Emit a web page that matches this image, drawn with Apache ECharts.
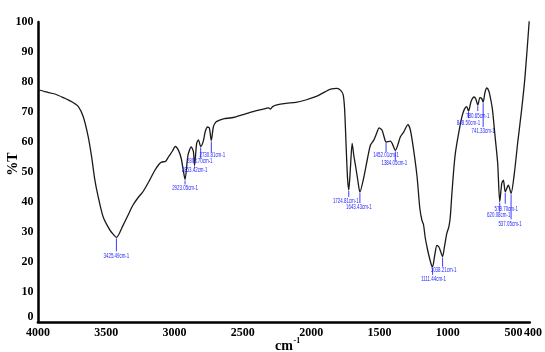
<!DOCTYPE html>
<html>
<head>
<meta charset="utf-8">
<script src="https://cdn.jsdelivr.net/npm/echarts@6/dist/echarts.min.js"></script>
<style>
  html, body { margin: 0; padding: 0; background: #fff; }
  #chart { width: 545px; height: 352px; }
</style>
</head>
<body>
<div id="chart"></div>
<script>
// FTIR spectrum: wavenumber (cm-1) vs transmittance (%T)
const wavenumber = [
  4000, 3950, 3875, 3814, 3752, 3704, 3668, 3632, 3607, 3583, 3559, 3523, 3474, 3448, 3425.49,
  3376, 3336, 3304, 3266, 3230, 3182, 3145, 3115, 3095, 3065, 3045, 3015, 2995, 2972, 2951,
  2936, 2923.05, 2902, 2878, 2862, 2853.42, 2838, 2825, 2808.70, 2790, 2775, 2758, 2745,
  2730.81, 2716, 2698, 2675, 2636, 2595, 2550, 2492, 2452, 2385, 2330, 2312, 2298, 2282,
  2258, 2185, 2112, 2040, 1967, 1919, 1858, 1810, 1786, 1766, 1755, 1744, 1734, 1724.81,
  1712, 1700, 1688, 1675, 1658, 1643.43, 1614, 1590, 1566, 1541, 1517, 1503, 1482, 1465,
  1452.01, 1420, 1405, 1384.05, 1346, 1322, 1292, 1274, 1250, 1225, 1205, 1190, 1178, 1165,
  1150, 1135, 1120, 1111.44, 1095, 1080, 1065, 1055, 1038.21, 1025, 1007, 992, 982, 970,
  958, 945, 921, 897, 880, 862, 848.50, 830, 808, 795, 780.65, 765, 752, 741.33, 728, 715,
  700, 685, 673, 654, 635, 620.08, 605, 593, 579.70, 557, 537.05, 513, 489, 460, 435, 404
];
const transmittance = [
  77.5, 76.8, 76.0, 74.8, 73.4, 71.8, 68.4, 61.8, 55.1, 47.3, 41.8, 35.1, 30.7, 29.2, 28.2,
  32.3, 36.0, 39.0, 41.5, 43.5, 47.3, 50.5, 52.5, 53.3, 53.6, 55.0, 57.0, 58.5, 57.3, 54.5,
  50.5, 47.5, 55.5, 58.4, 56.8, 52.2, 59.6, 60.7, 58.5, 60.2, 63.5, 65.0, 64.6,
  60.5, 65.0, 66.6, 67.2, 67.8, 68.0, 68.4, 69.2, 69.8, 70.6, 71.2, 71.4, 71.0, 71.8,
  72.3, 72.9, 73.2, 74.0, 75.1, 76.2, 77.6, 77.9, 77.3, 75.8, 70.7, 58.4, 48.0, 44.0,
  52.0, 59.5, 55.5, 52.0, 47.0, 43.3, 48.4, 54.0, 59.0, 60.7, 63.4, 64.7, 64.0, 61.5,
  60.0, 60.3, 59.3, 57.2, 61.8, 63.4, 65.8, 64.0, 57.3, 48.4, 38.0, 34.0, 32.5, 28.0,
  24.5, 21.5, 19.0, 18.4, 22.5, 25.5, 25.0, 23.8, 21.8, 25.0, 29.6, 31.8, 35.0, 42.9,
  50.0, 56.2, 62.9, 68.4, 70.8, 71.8, 70.3, 73.5, 75.0, 74.3, 72.3, 74.8, 74.5, 73.3, 76.5, 78.0,
  77.0, 74.0, 70.7, 61.8, 52.9, 40.1, 46.2, 47.3, 43.4, 45.6, 42.9, 49.6, 59.6, 70.7, 81.8, 100.5
];

// Assigned absorption bands (must be wavenumbers present above)
const peakWavenumbers = [
  3425.49, 2923.05, 2853.42, 2808.70, 2730.81, 1724.81, 1643.43, 1452.01, 1384.05,
  1111.44, 1038.21, 848.50, 780.65, 741.33, 620.08, 579.70, 537.05
];
const peakLabels = [
  '3425.49cm-1', '2923.05cm-1', '2853.42cm-1', '2808.70cm-1', '2730.81cm-1',
  '1724.81cm-1', '1643.43cm-1', '1452.01cm-1', '1384.05cm-1', '1111.44cm-1',
  '1038.21cm-1', '848.50cm-1', '780.65cm-1', '741.33cm-1', '620.08cm-1',
  '579.70cm-1', '537.05cm-1'
];

const xTickValues = [4000, 3500, 3000, 2500, 2000, 1500, 1000, 500, 400];

// Leader line length and label offset (px) for each band annotation
const annotationLayout = [
  [14, 0, 19], [5, 0, 9], [3, 0, 5], [12, -1, 15], [12, 1, 15],
  [7, -3, 11], [11, -1, 15.5], [10, 0, 13], [10, -1, 12.5], [8, 1, 12],
  [10, 1, 14], [7, 0, 12], [6, 0, 11], [25, 0, 29], [10, -1, 14],
  [12, 1, 17], [26, -1, 31]
];

const spectrum = wavenumber.map((w, i) => [w, transmittance[i]]);
const peaks = peakWavenumbers.map(w => [w, transmittance[wavenumber.indexOf(w)]]);

const serif = '"Liberation Serif", "Times New Roman", serif';
const tickFont = { fontFamily: serif, fontWeight: 'bold', fontSize: 12, color: '#000' };
const chart = echarts.init(document.getElementById('chart'), null, { renderer: 'canvas' });

chart.setOption({
  backgroundColor: '#ffffff',
  animation: false,
  grid: { left: 37.9, right: 13.5, top: 22, bottom: 30, containLabel: false },
  xAxis: {
    type: 'value',
    inverse: true,
    min: 400,
    max: 4000,
    splitLine: { show: false },
    axisTick: { show: false },
    axisLine: { lineStyle: { color: '#000', width: 2.5 } },
    axisLabel: Object.assign({
      customValues: xTickValues,
      interval: 0,
      hideOverlap: false,
      margin: 5,
      // the two closely spaced labels at the low end are pushed apart
      formatter: v => v === 500 ? '{l|500}' : (v === 400 ? '{r|400}' : String(v)),
      rich: {
        l: Object.assign({ width: 12.6, align: 'right' }, tickFont),
        r: Object.assign({ width: 11.6, align: 'left' }, tickFont)
      }
    }, tickFont)
  },
  yAxis: {
    type: 'value',
    min: 0,
    max: 100,
    interval: 10,
    splitLine: { show: false },
    axisTick: { show: false },
    axisLine: { lineStyle: { color: '#000', width: 2.5 } },
    axisLabel: Object.assign({
      margin: 4.5,
      formatter: v => v === 0 ? '{z|0}' : String(v),
      rich: {
        z: Object.assign({ padding: [0, 0, 11, 0] }, tickFont)
      }
    }, tickFont)
  },
  graphic: [
    {
      type: 'text',
      x: 13,
      y: 164,
      rotation: Math.PI / 2,
      style: {
        text: '%T',
        font: 'bold 14px ' + serif,
        fill: '#000',
        align: 'center',
        verticalAlign: 'middle'
      }
    },
    {
      type: 'text',
      x: 293,
      y: 346,
      style: {
        text: 'cm',
        font: 'bold 14px ' + serif,
        fill: '#000',
        align: 'right',
        verticalAlign: 'middle'
      }
    },
    {
      type: 'text',
      x: 293.5,
      y: 341,
      style: {
        text: '-1',
        font: 'bold 8px ' + serif,
        fill: '#000',
        align: 'left',
        verticalAlign: 'middle'
      }
    }
  ],
  series: [
    {
      type: 'line',
      data: spectrum,
      symbol: 'none',
      smooth: 0.25,
      lineStyle: { color: '#1a1a1a', width: 1.3 },
      clip: true,
      z: 2
    },
    {
      type: 'custom',
      data: peaks,
      clip: false,
      z: 3,
      renderItem: (params, api) => {
        const p = api.coord([api.value(0), api.value(1)]);
        const lay = annotationLayout[params.dataIndex];
        return {
          type: 'group',
          children: [
            {
              type: 'line',
              shape: { x1: p[0], y1: p[1] + 1, x2: p[0], y2: p[1] + lay[0] },
              style: { stroke: '#3a3aff', lineWidth: 1 }
            },
            {
              type: 'text',
              x: p[0] + lay[1],
              y: p[1] + lay[2],
              scaleX: 0.68,
              style: {
                text: peakLabels[params.dataIndex],
                font: '6.5px "Liberation Sans", Arial, sans-serif',
                fill: '#1f1fff',
                align: 'center',
                verticalAlign: 'middle'
              }
            }
          ]
        };
      }
    }
  ]
});
</script>
</body>
</html>
